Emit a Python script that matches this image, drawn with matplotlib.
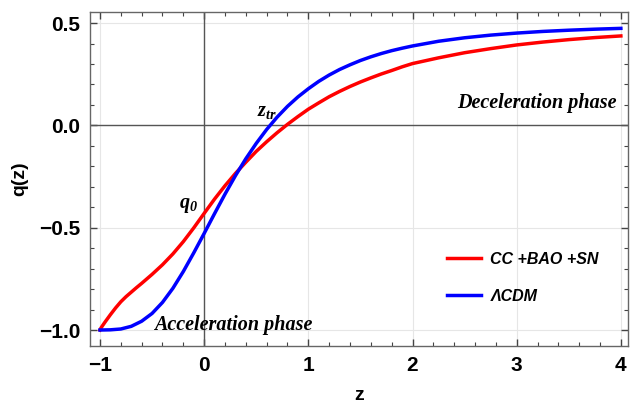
import numpy as np
import matplotlib
matplotlib.use("Agg")
import matplotlib.pyplot as plt
from matplotlib.ticker import MultipleLocator

plt.rcParams["mathtext.fontset"] = "custom"
plt.rcParams["mathtext.it"] = "Liberation Serif:italic:bold"
plt.rcParams["mathtext.rm"] = "Liberation Serif:italic:bold"

# deceleration parameter
z_lcdm = [-1.0, -0.9, -0.8, -0.7, -0.6, -0.5, -0.4, -0.3, -0.2, -0.1, 0.0,
          0.1, 0.2, 0.3, 0.4, 0.5, 0.6, 0.7, 0.8, 0.9, 1.0, 1.1, 1.2, 1.3,
          1.4, 1.5, 1.6, 1.7, 1.8, 1.9, 2.0, 2.25, 2.5, 2.75, 3.0, 3.25,
          3.5, 3.75, 4.0]
q_lcdm = [-1.0, -0.999, -0.995, -0.982, -0.957, -0.919, -0.865, -0.796,
          -0.714, -0.623, -0.528, -0.431, -0.336, -0.246, -0.163, -0.088,
          -0.020, 0.040, 0.093, 0.139, 0.179, 0.215, 0.246, 0.273, 0.296,
          0.317, 0.335, 0.351, 0.365, 0.377, 0.388, 0.411, 0.428, 0.441,
          0.451, 0.459, 0.465, 0.470, 0.474]

z_fit = [-1.0, -0.99, -0.98, -0.95, -0.9, -0.85, -0.8, -0.75, -0.7, -0.65,
         -0.6, -0.5, -0.4, -0.3, -0.2, -0.1, 0.0, 0.1, 0.2, 0.3, 0.4, 0.5,
         0.6, 0.7, 0.8, 0.9, 1.0, 1.1, 1.2, 1.3, 1.4, 1.5, 1.6, 1.7, 1.8,
         1.9, 2.0, 2.25, 2.5, 2.75, 3.0, 3.25, 3.5, 3.75, 4.0]
q_fit = [-1.0, -0.99, -0.982, -0.96, -0.925, -0.892, -0.862, -0.837,
         -0.815, -0.793, -0.772, -0.728, -0.681, -0.628, -0.568, -0.501,
         -0.43, -0.36, -0.295, -0.235, -0.18, -0.127, -0.08, -0.036, 0.005,
         0.043, 0.079, 0.11, 0.14, 0.166, 0.19, 0.212, 0.232, 0.251, 0.268,
         0.286, 0.302, 0.33, 0.355, 0.375, 0.393, 0.407, 0.419, 0.429, 0.437]

fig = plt.figure(figsize=(6.31, 4.08), dpi=100)
ax = fig.add_axes([0.1426, 0.152, 0.8524, 0.8186])

ax.plot(z_fit, q_fit, color="#ff0000", lw=2.5, label="CC +BAO +SN",
        zorder=3, solid_joinstyle="round")
ax.plot(z_lcdm, q_lcdm, color="#0000ff", lw=2.5, label="ΛCDM",
        zorder=3, solid_joinstyle="round")

ax.axhline(0, color="#555555", lw=1.0, zorder=2)
ax.axvline(0, color="#555555", lw=1.0, zorder=2)

ax.set_xlim(-1.096, 4.067)
ax.set_ylim(-1.078, 0.554)
ax.xaxis.set_minor_locator(MultipleLocator(0.2))
ax.yaxis.set_minor_locator(MultipleLocator(0.1))
ax.grid(True, which="major", color="#e6e6e6", lw=0.8, zorder=0)

for s in ax.spines.values():
    s.set_color("#666666")
    s.set_linewidth(1.0)
ax.tick_params(which="both", direction="in", top=True, right=True,
               color="#444444")
ax.tick_params(which="major", length=5, width=1, pad=7)
ax.tick_params(which="minor", length=3, width=0.8)

tick_font = dict(fontfamily="Liberation Sans", fontweight="bold", fontsize=15)
ax.set_yticks([-1.0, -0.5, 0.0, 0.5])
ax.set_yticklabels(["−1.0", "−0.5", "0.0", "0.5"], **tick_font)
ax.set_xticks([-1, 0, 1, 2, 3, 4])
ax.set_xticklabels(["−1", "0", "1", "2", "3", "4"], **tick_font)

ax.set_xlabel("z", fontfamily="Liberation Sans", fontweight="bold",
              fontsize=14, labelpad=9)
ax.set_ylabel("q(z)", fontfamily="Liberation Sans", fontweight="bold",
              fontsize=14, labelpad=8)

serif = dict(fontfamily="Liberation Serif", fontstyle="italic",
             fontweight="bold", fontsize=14.5)
ax.text(3.96, 0.11, "Deceleration phase", ha="right", va="center", **serif)
ax.text(0.28, -0.975, "Acceleration phase", ha="center", va="center", **serif)
ax.text(-0.15, -0.39, r"$q_0$", ha="center", va="center", fontsize=14.5)
ax.text(0.6, 0.07, r"$z_{tr}$", ha="center", va="center", fontsize=14.5)

ax.legend(loc="center left", bbox_to_anchor=(0.664, 0.204), frameon=False,
          borderpad=0, borderaxespad=0, handlelength=2.1, handletextpad=0.6,
          labelspacing=1.35,
          prop=dict(family="Liberation Sans", style="italic", weight="bold",
                    size=11.5))

fig.savefig("out.png", dpi=100)
